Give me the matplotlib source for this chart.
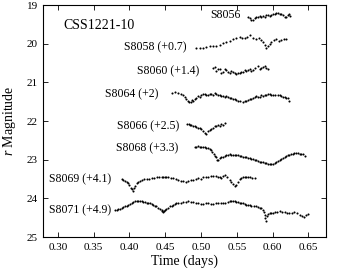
import matplotlib
matplotlib.use("Agg")
import matplotlib.pyplot as plt

plt.rcParams['font.family'] = 'Liberation Serif'
plt.rcParams['mathtext.fontset'] = 'custom'
plt.rcParams['mathtext.rm'] = 'Liberation Serif'
plt.rcParams['mathtext.it'] = 'Liberation Serif:italic'

################################################################################
# light curves (time in days, r magnitude incl. offset)

s8056_t = [0.5655, 0.5678, 0.5701, 0.5725, 0.5748, 0.5771, 0.5794, 0.5817, 0.5841,
           0.5864, 0.5887, 0.5910, 0.5934, 0.5957, 0.5980, 0.6003, 0.6026, 0.6050,
           0.6073, 0.6096, 0.6119, 0.6142, 0.6166, 0.6189, 0.6212, 0.6235, 0.6249]
s8056_m = [19.30, 19.34, 19.40, 19.39, 19.34, 19.32, 19.30, 19.28, 19.30,
           19.28, 19.30, 19.27, 19.25, 19.28, 19.26, 19.23, 19.22, 19.20,
           19.20, 19.22, 19.23, 19.26, 19.30, 19.32, 19.26, 19.22, 19.28]

s8058_t = [0.4936, 0.4980, 0.5030, 0.5075, 0.5120, 0.5165, 0.5210, 0.5260, 0.5306,
           0.5350, 0.5400, 0.5446, 0.5490, 0.5539, 0.5575, 0.5609, 0.5645, 0.5678,
           0.5724, 0.5771, 0.5805, 0.5841, 0.5865, 0.5887, 0.5911, 0.5933, 0.5960,
           0.5981, 0.6015, 0.6050, 0.6085, 0.6120, 0.6155, 0.6189]
s8058_m = [20.12, 20.11, 20.10, 20.08, 20.07, 20.06, 20.05, 20.03, 19.99,
           19.96, 19.93, 19.88, 19.86, 19.82, 19.85, 19.86, 19.82, 19.78,
           19.84, 19.88, 19.86, 19.90, 19.95, 20.03, 20.12, 20.05, 20.00,
           19.95, 19.91, 19.88, 19.92, 19.90, 19.87, 19.88]

s8060_t = [0.5167, 0.5190, 0.5214, 0.5237, 0.5260, 0.5283, 0.5306, 0.5330, 0.5354,
           0.5377, 0.5400, 0.5423, 0.5446, 0.5470, 0.5493, 0.5516, 0.5539, 0.5562,
           0.5585, 0.5608, 0.5632, 0.5655, 0.5678, 0.5701, 0.5724, 0.5759, 0.5794,
           0.5818, 0.5841, 0.5864, 0.5887, 0.5910, 0.5933]
s8060_m = [20.64, 20.60, 20.71, 20.66, 20.65, 20.75, 20.72, 20.66, 20.68,
           20.74, 20.77, 20.70, 20.74, 20.76, 20.79, 20.75, 20.77, 20.73,
           20.72, 20.69, 20.71, 20.67, 20.65, 20.70, 20.68, 20.63, 20.59,
           20.66, 20.64, 20.60, 20.57, 20.62, 20.65]

s8064_t = [0.4596, 0.4638, 0.4680, 0.4727, 0.4750, 0.4773, 0.4796, 0.4819, 0.4838,
           0.4857, 0.4873, 0.4889, 0.4912, 0.4936, 0.4958, 0.4982, 0.5006, 0.5029,
           0.5052, 0.5075, 0.5098, 0.5122, 0.5145, 0.5168, 0.5191, 0.5214, 0.5237,
           0.5260, 0.5284, 0.5307, 0.5330, 0.5353, 0.5376, 0.5400, 0.5423, 0.5446,
           0.5469, 0.5492, 0.5515, 0.5550, 0.5585, 0.5608, 0.5632, 0.5655, 0.5678,
           0.5701, 0.5724, 0.5748, 0.5772, 0.5795, 0.5818, 0.5840, 0.5863, 0.5887,
           0.5911, 0.5934, 0.5957, 0.5980, 0.6003, 0.6038, 0.6072, 0.6096, 0.6120,
           0.6143, 0.6166, 0.6189, 0.6212, 0.6235]
s8064_m = [21.27, 21.26, 21.27, 21.30, 21.33, 21.37, 21.42, 21.47, 21.50,
           21.52, 21.45, 21.47, 21.43, 21.41, 21.35, 21.37, 21.33, 21.31,
           21.30, 21.34, 21.33, 21.29, 21.30, 21.32, 21.28, 21.31, 21.33,
           21.34, 21.35, 21.36, 21.37, 21.36, 21.39, 21.40, 21.41, 21.42,
           21.44, 21.45, 21.47, 21.49, 21.50, 21.48, 21.47, 21.46, 21.44,
           21.42, 21.41, 21.38, 21.35, 21.37, 21.37, 21.33, 21.35, 21.34,
           21.33, 21.30, 21.30, 21.32, 21.33, 21.32, 21.33, 21.34, 21.35,
           21.37, 21.39, 21.40, 21.41, 21.47]

s8066_t = [0.4806, 0.4825, 0.4843, 0.4866, 0.4889, 0.4912, 0.4936, 0.4959, 0.4982,
           0.5005, 0.5028, 0.5052, 0.5075, 0.5098, 0.5121, 0.5145, 0.5167, 0.5190,
           0.5214, 0.5237, 0.5260, 0.5284, 0.5306, 0.5330]
s8066_m = [22.07, 22.08, 22.10, 22.11, 22.13, 22.14, 22.16, 22.17, 22.19,
           22.21, 22.25, 22.30, 22.33, 22.27, 22.23, 22.21, 22.19, 22.12,
           22.14, 22.10, 22.13, 22.07, 22.10, 22.06]

s8068_t = [0.4912, 0.4935, 0.4958, 0.4982, 0.5006, 0.5029, 0.5052, 0.5075, 0.5098,
           0.5122, 0.5145, 0.5160, 0.5177, 0.5195, 0.5214, 0.5225, 0.5237, 0.5260,
           0.5283, 0.5306, 0.5330, 0.5354, 0.5377, 0.5400, 0.5423, 0.5446, 0.5470,
           0.5493, 0.5516, 0.5539, 0.5562, 0.5585, 0.5608, 0.5632, 0.5655, 0.5678,
           0.5701, 0.5724, 0.5748, 0.5772, 0.5795, 0.5818, 0.5840, 0.5863, 0.5887,
           0.5911, 0.5934, 0.5957, 0.5980, 0.6003, 0.6026, 0.6050, 0.6073, 0.6096,
           0.6119, 0.6142, 0.6166, 0.6189, 0.6212, 0.6235, 0.6260, 0.6281, 0.6305,
           0.6328, 0.6351, 0.6375, 0.6398, 0.6420, 0.6445]
s8068_m = [22.68, 22.67, 22.64, 22.66, 22.66, 22.67, 22.68, 22.69, 22.70,
           22.73, 22.76, 22.80, 22.85, 22.90, 22.94, 23.00, 23.02, 22.96,
           22.94, 22.92, 22.90, 22.88, 22.87, 22.85, 22.87, 22.88, 22.87,
           22.88, 22.89, 22.90, 22.91, 22.92, 22.93, 22.94, 22.95, 22.96,
           22.97, 22.99, 23.00, 23.01, 23.03, 23.05, 23.06, 23.07, 23.08,
           23.09, 23.10, 23.11, 23.10, 23.12, 23.08, 23.05, 23.03, 23.01,
           22.99, 22.96, 22.94, 22.90, 22.89, 22.88, 22.86, 22.85, 22.84,
           22.83, 22.84, 22.85, 22.86, 22.85, 22.90]

s8069_t = [0.3891, 0.3914, 0.3937, 0.3960, 0.3983, 0.4000, 0.4017, 0.4031, 0.4045,
           0.4061, 0.4077, 0.4100, 0.4123, 0.4147, 0.4170, 0.4205, 0.4240, 0.4275,
           0.4309, 0.4344, 0.4379, 0.4413, 0.4448, 0.4471, 0.4494, 0.4517, 0.4540,
           0.4575, 0.4610, 0.4645, 0.4680, 0.4715, 0.4749, 0.4784, 0.4819, 0.4854,
           0.4889, 0.4924, 0.4958, 0.4993, 0.5028, 0.5063, 0.5098, 0.5133, 0.5167,
           0.5202, 0.5237, 0.5260, 0.5284, 0.5307, 0.5330, 0.5365, 0.5400, 0.5423,
           0.5446, 0.5469, 0.5493, 0.5516, 0.5539, 0.5562, 0.5585, 0.5608, 0.5632,
           0.5655, 0.5678, 0.5713, 0.5748]
s8069_m = [23.50, 23.53, 23.55, 23.58, 23.61, 23.66, 23.72, 23.76, 23.80,
           23.74, 23.67, 23.60, 23.57, 23.54, 23.52, 23.51, 23.50, 23.49,
           23.48, 23.47, 23.46, 23.46, 23.46, 23.45, 23.44, 23.45, 23.46,
           23.47, 23.48, 23.50, 23.52, 23.54, 23.56, 23.57, 23.55, 23.53,
           23.52, 23.50, 23.48, 23.49, 23.46, 23.45, 23.44, 23.43, 23.41,
           23.43, 23.44, 23.46, 23.48, 23.43, 23.39, 23.45, 23.52, 23.58,
           23.63, 23.67, 23.65, 23.58, 23.50, 23.48, 23.46, 23.45, 23.44,
           23.45, 23.46, 23.47, 23.48]

s8071_t = [0.3798, 0.3821, 0.3844, 0.3867, 0.3891, 0.3914, 0.3937, 0.3960, 0.3983,
           0.4007, 0.4031, 0.4054, 0.4077, 0.4100, 0.4123, 0.4147, 0.4170, 0.4193,
           0.4216, 0.4239, 0.4262, 0.4285, 0.4309, 0.4332, 0.4355, 0.4378, 0.4401,
           0.4425, 0.4448, 0.4460, 0.4471, 0.4483, 0.4494, 0.4517, 0.4540, 0.4564,
           0.4588, 0.4611, 0.4634, 0.4657, 0.4680, 0.4715, 0.4749, 0.4784, 0.4819,
           0.4854, 0.4889, 0.4924, 0.4958, 0.4993, 0.5028, 0.5063, 0.5098, 0.5133,
           0.5167, 0.5202, 0.5237, 0.5272, 0.5306, 0.5341, 0.5376, 0.5400, 0.5423,
           0.5446, 0.5469, 0.5492, 0.5515, 0.5539, 0.5562, 0.5585, 0.5609, 0.5632,
           0.5655, 0.5678, 0.5702, 0.5737, 0.5772, 0.5795, 0.5818, 0.5840, 0.5863,
           0.5875, 0.5887, 0.5900, 0.5911, 0.5922, 0.5933, 0.5957, 0.5981, 0.6003,
           0.6026, 0.6061, 0.6096, 0.6131, 0.6166, 0.6200, 0.6235, 0.6270, 0.6305,
           0.6340, 0.6375, 0.6410, 0.6444, 0.6467, 0.6490]
s8071_m = [24.30, 24.29, 24.27, 24.28, 24.25, 24.23, 24.21, 24.19, 24.17,
           24.14, 24.12, 24.10, 24.08, 24.07, 24.06, 24.07, 24.08, 24.09,
           24.10, 24.11, 24.12, 24.13, 24.15, 24.17, 24.19, 24.21, 24.24,
           24.27, 24.30, 24.33, 24.36, 24.33, 24.30, 24.27, 24.24, 24.21,
           24.19, 24.17, 24.15, 24.13, 24.12, 24.11, 24.10, 24.09, 24.08,
           24.09, 24.10, 24.11, 24.12, 24.14, 24.15, 24.13, 24.12, 24.14,
           24.15, 24.13, 24.12, 24.13, 24.12, 24.11, 24.10, 24.08, 24.06,
           24.07, 24.08, 24.09, 24.10, 24.12, 24.13, 24.12, 24.15, 24.16,
           24.17, 24.18, 24.19, 24.20, 24.21, 24.22, 24.24, 24.26, 24.30,
           24.36, 24.43, 24.52, 24.58, 24.46, 24.41, 24.39, 24.38, 24.37,
           24.36, 24.35, 24.34, 24.35, 24.36, 24.37, 24.38, 24.37, 24.36,
           24.39, 24.42, 24.45, 24.47, 24.43, 24.40]

curves = [s8056_t, s8058_t, s8060_t, s8064_t, s8066_t, s8068_t, s8069_t, s8071_t]
mags = [s8056_m, s8058_m, s8060_m, s8064_m, s8066_m, s8068_m, s8069_m, s8071_m]

labels = ["S8056", "S8058 (+0.7)", "S8060 (+1.4)", "S8064 (+2)",
          "S8066 (+2.5)", "S8068 (+3.3)", "S8069 (+4.1)", "S8071 (+4.9)"]
label_t = [0.555, 0.480, 0.498, 0.440, 0.470, 0.468, 0.375, 0.375]
label_m = [19.26, 20.10, 20.72, 21.31, 22.13, 22.70, 23.52, 24.30]

x_ticks = [0.30, 0.35, 0.40, 0.45, 0.50, 0.55, 0.60, 0.65]
y_ticks = [19, 20, 21, 22, 23, 24, 25]

################################################################################

fig = plt.figure(figsize=(3.45, 2.79), dpi=100)
ax = fig.add_axes([0.126, 0.1505, 0.82, 0.8315])

for t, m in zip(curves, mags):
    ax.plot(t, m, 'k.', markersize=3.0, markeredgewidth=0)

for lab, t, m in zip(labels, label_t, label_m):
    ax.text(t, m, lab, fontsize=8.5, ha='right', va='center')

ax.text(0.308, 19.52, "CSS1221-10", fontsize=10, ha='left', va='center')

ax.set_xlim(0.28, 0.675)
ax.set_ylim(25, 19)
ax.set_xticks(x_ticks)
ax.set_xticklabels(["%.2f" % x for x in x_ticks])
ax.set_yticks(y_ticks)
ax.tick_params(direction='in', top=True, right=True, length=3.5, width=0.6,
               labelsize=8, pad=4)
for sp in ax.spines.values():
    sp.set_linewidth(0.8)

ax.set_xlabel("Time (days)", fontsize=10, labelpad=2)
ax.set_ylabel("$r$ Magnitude", fontsize=10, labelpad=6)

fig.savefig("out.png", dpi=100)
